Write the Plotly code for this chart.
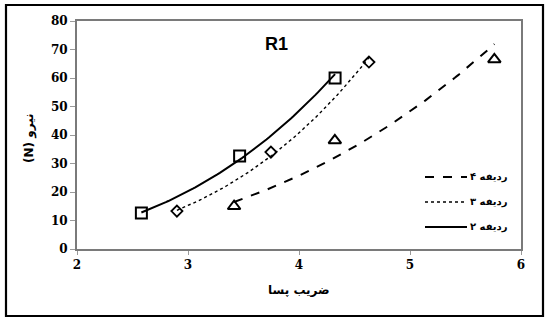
import numpy as np
import plotly.graph_objects as go

# Measured points: drag coefficient (x) vs force in N (y) for each row count
rows2_x = [2.58, 3.465, 4.325]
rows2_y = [12.6, 32.6, 60.0]
rows3_x = [2.90, 3.747, 4.63]
rows3_y = [13.3, 34.0, 65.6]
rows4_x = [3.415, 4.323, 5.76]
rows4_y = [15.0, 38.1, 66.5]

legend_labels = ["۴ ردیفه", "۳ ردیفه", "۲ ردیفه"]
x_title = "ضریب پسا"
y_title = "(N) نیرو"
chart_title = "R1"

x_ticks = [2, 3, 4, 5, 6]
y_ticks = [0, 10, 20, 30, 40, 50, 60, 70, 80]


def power_trend(xs, ys, n=80):
    """Least-squares power trendline y = a * x^b over the data's x span."""
    b, ln_a = np.polyfit(np.log(xs), np.log(ys), 1)
    xt = np.linspace(min(xs), max(xs), n)
    return xt, np.exp(ln_a) * xt ** b


series = [
    # (x, y, marker symbol, marker size, marker line width, dash, line width)
    (rows4_x, rows4_y, "triangle-up-open", 11, 2.0, "dash", 2.0),
    (rows3_x, rows3_y, "diamond-open", 8.5, 1.8, "dot", 1.4),
    (rows2_x, rows2_y, "square-open", 11, 2.0, "solid", 2.0),
]

fig = go.Figure()

for (xs, ys, sym, msize, mlw, dash, lw), name in zip(series, legend_labels):
    xt, yt = power_trend(xs, ys)
    fig.add_trace(go.Scatter(
        x=xt, y=yt, mode="lines", name=name, showlegend=False,
        line=dict(color="black", width=lw, dash=dash),
        hoverinfo="skip",
    ))
    fig.add_trace(go.Scatter(
        x=xs, y=ys, mode="markers", showlegend=False,
        marker=dict(symbol=sym, size=msize, color="black",
                    line=dict(color="black", width=mlw)),
    ))

# Plot-area pixel geometry (figure is 546 x 320)
L, R, T, B = 77, 521, 21, 249
W, H = R - L, B - T


def px(xp):
    return (xp - L) / W


def py(yp):
    return (B - yp) / H


shapes = [
    # outer chart frame
    dict(type="rect", xref="paper", yref="paper",
         x0=px(6), x1=px(543), y0=py(316), y1=py(5),
         line=dict(color="black", width=2.2), layer="below"),
]

arabic_font = "DejaVu Sans"

annotations = [
    dict(text=f"<b>{chart_title}</b>", xref="paper", yref="paper",
         x=px(276), y=py(44), xanchor="center", yanchor="middle", showarrow=False,
         font=dict(family="Liberation Sans", size=18, color="black")),
    dict(text=f"<b>{x_title}</b>", xref="paper", yref="paper",
         x=px(299), y=py(290), xanchor="center", yanchor="middle", showarrow=False,
         font=dict(family=arabic_font, size=12, color="black")),
    dict(text=f"<b>{y_title}</b>", xref="paper", yref="paper",
         x=px(29), y=py(138), xanchor="center", yanchor="middle", showarrow=False,
         textangle=-90,
         font=dict(family=arabic_font, size=12, color="black")),
]

# Hand-placed legend: line sample to the left of each label
legend_rows_y = [177, 202, 227]
legend_dash = ["dash", "dot", "solid"]
legend_w = [2.0, 1.4, 2.0]
for name, yy, dash, lw in zip(legend_labels, legend_rows_y, legend_dash, legend_w):
    shapes.append(dict(type="line", xref="paper", yref="paper",
                       x0=px(425), x1=px(467), y0=py(yy), y1=py(yy),
                       line=dict(color="black", width=lw, dash=dash)))
    annotations.append(dict(text=f"<b>{name}</b>", xref="paper", yref="paper",
                            x=px(468), y=py(yy), xanchor="left", yanchor="middle",
                            showarrow=False,
                            font=dict(family=arabic_font, size=10, color="black")))

fig.update_layout(
    width=546, height=320,
    margin=dict(l=L, r=546 - R, t=T, b=320 - B),
    paper_bgcolor="white", plot_bgcolor="white",
    showlegend=False,
    shapes=shapes, annotations=annotations,
)

# Bold serif tick labels
tick_font = dict(family="DejaVu Serif", size=12, color="black", weight="bold")

fig.update_xaxes(
    range=[2, 6], tickvals=x_ticks,
    showgrid=False, zeroline=False,
    showline=True, linecolor="#7a7a7a", linewidth=2, mirror=True,
    ticks="outside", tickcolor="#9a9a9a", ticklen=4, tickwidth=1,
    tickfont=tick_font,
)
fig.update_yaxes(
    range=[0, 80], tickvals=y_ticks, ticksuffix="\u00a0\u00a0",
    showgrid=False, zeroline=False,
    showline=True, linecolor="#7a7a7a", linewidth=2, mirror=True,
    ticks="outside", tickcolor="#9a9a9a", ticklen=5, tickwidth=1,
    tickfont=tick_font,
)

fig.write_html("out.html")
